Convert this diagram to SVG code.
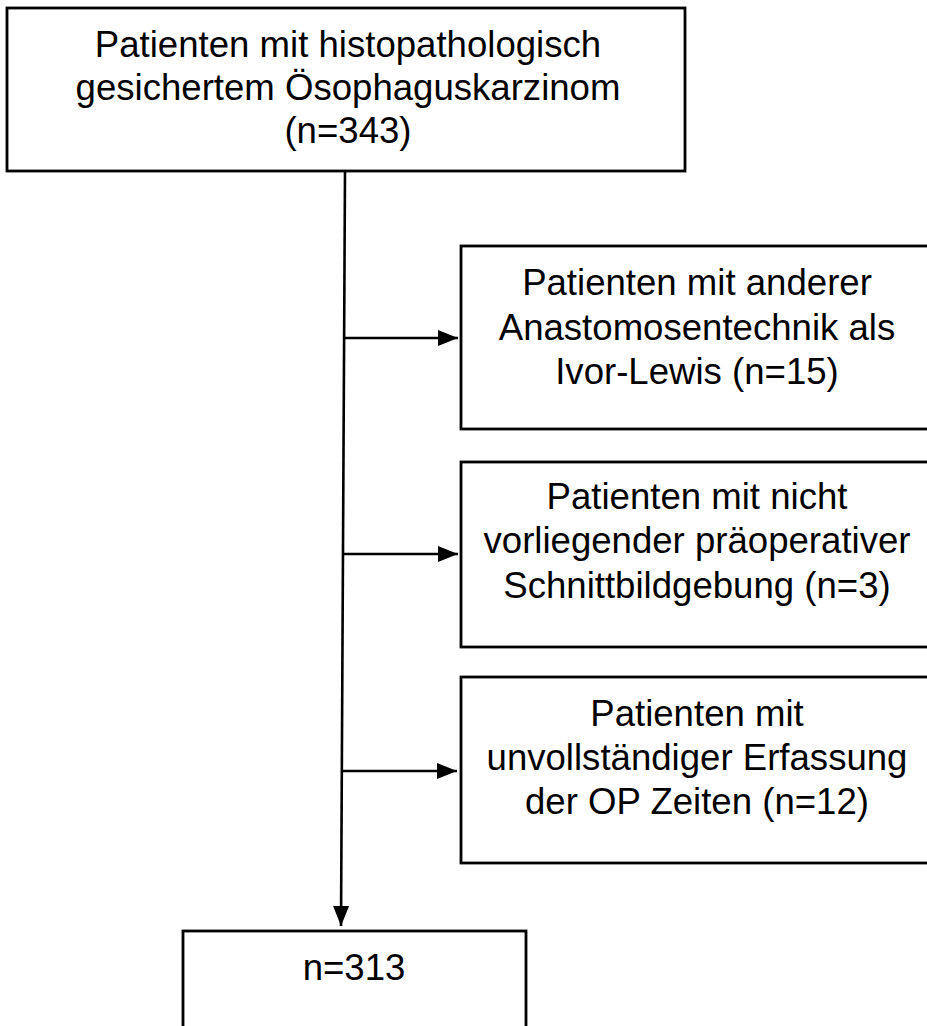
<svg xmlns="http://www.w3.org/2000/svg" width="927" height="1026" viewBox="0 0 927 1026">
<style>
  .box { fill: #ffffff; stroke: #000000; stroke-width: 2.8; }
  .t { font-family: "Liberation Sans", Arial, sans-serif; font-size: 36.6px; fill: #000000; text-anchor: middle; }
  .edge { fill: none; stroke: #000000; stroke-width: 2.6; }
</style>
<defs>
  <marker id="arrow" markerUnits="userSpaceOnUse" markerWidth="21" markerHeight="18" refX="20" refY="9" orient="auto">
    <path d="M0,1 L20,9 L0,17 Z" fill="#000000"/>
  </marker>
</defs>
<rect width="927" height="1026" fill="#ffffff"/>
<g id="connectors">
  <path class="edge" d="M345,171 L341,926" marker-end="url(#arrow)"/>
  <path class="edge" d="M344,338 L458,338" marker-end="url(#arrow)"/>
  <path class="edge" d="M343,554 L458,554" marker-end="url(#arrow)"/>
  <path class="edge" d="M342,771 L457,771" marker-end="url(#arrow)"/>
</g>
<g id="node-start">
  <rect class="box" x="7" y="8" width="678" height="163"/>
  <text class="t" x="348" y="57">Patienten mit histopathologisch</text>
  <text class="t" x="348" y="100">gesichertem Ösophaguskarzinom</text>
  <text class="t" x="348" y="143">(n=343)</text>
</g>
<g id="node-excl1">
  <rect class="box" x="461" y="246" width="472" height="183"/>
  <text class="t" x="697" y="295">Patienten mit anderer</text>
  <text class="t" x="697" y="340">Anastomosentechnik als</text>
  <text class="t" x="697" y="384">Ivor-Lewis (n=15)</text>
</g>
<g id="node-excl2">
  <rect class="box" x="461" y="462" width="472" height="185"/>
  <text class="t" x="697" y="509">Patienten mit nicht</text>
  <text class="t" x="697" y="553">vorliegender präoperativer</text>
  <text class="t" x="697" y="598">Schnittbildgebung (n=3)</text>
</g>
<g id="node-excl3">
  <rect class="box" x="461" y="677" width="472" height="186"/>
  <text class="t" x="697" y="726">Patienten mit</text>
  <text class="t" x="697" y="770">unvollständiger Erfassung</text>
  <text class="t" x="697" y="814">der OP Zeiten (n=12)</text>
</g>
<g id="node-final">
  <rect class="box" x="183" y="931" width="343" height="110"/>
  <text class="t" x="354" y="980">n=313</text>
</g>
</svg>
